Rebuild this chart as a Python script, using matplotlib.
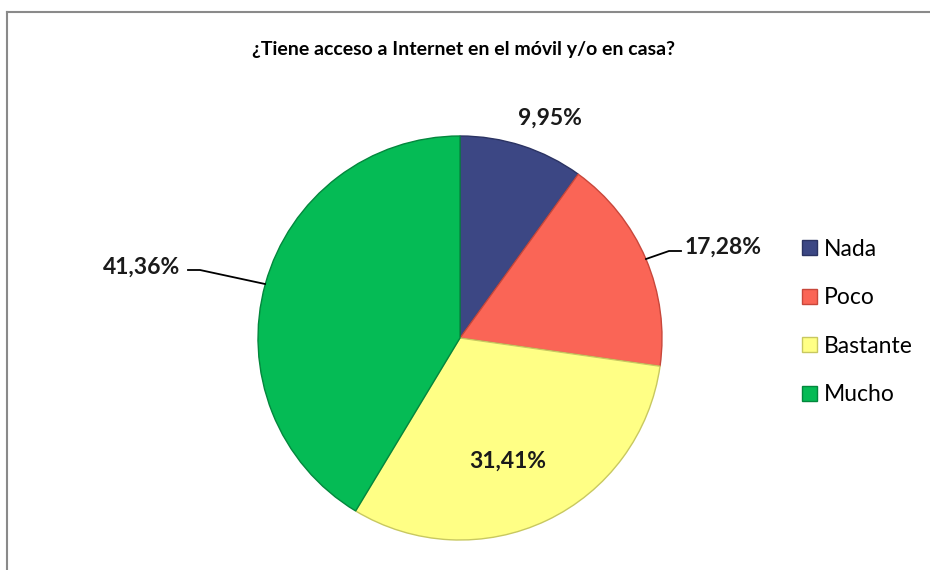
import matplotlib.pyplot as plt
from matplotlib.patches import Patch
from matplotlib.lines import Line2D

# Data
categories = ["Nada", "Poco", "Bastante", "Mucho"]
values = [9.95, 17.28, 31.41, 41.36]
labels = ["9,95%", "17,28%", "31,41%", "41,36%"]
colors = ["#3C4784", "#FA6556", "#FFFF85", "#05BB55"]
edges = ["#2B3363", "#C8473B", "#C8C860", "#03873D"]

plt.rcParams['font.family'] = ['Lato', 'DejaVu Sans']

W, H = 930, 570
fig = plt.figure(figsize=(W / 100, H / 100), dpi=100)

# Frame (only top and left edges visible)
fig.add_artist(Line2D([7 / W, 1], [1 - 12 / H, 1 - 12 / H], color="#8A8A8A", lw=1.5))
fig.add_artist(Line2D([7 / W, 7 / W], [0, 1 - 12 / H], color="#8A8A8A", lw=1.5))

fig.text(463 / W, 1 - 50 / H, "¿Tiene acceso a Internet en el móvil y/o en casa?",
         ha="center", va="center", fontsize=14, fontweight="bold")

# Pie axes: center (460, 338) px, radius 202 px
cx, cy, r = 460, 338, 202
ax = fig.add_axes([(cx - r) / W, (H - cy - r) / H, 2 * r / W, 2 * r / H])
wedges, _ = ax.pie(values, colors=colors, startangle=90, counterclock=False,
                   radius=1.0, wedgeprops=dict(linewidth=1.0))
for w, ec in zip(wedges, edges):
    w.set_edgecolor(ec)
ax.set_xlim(-1, 1)
ax.set_ylim(-1, 1)
ax.axis("off")


def px(x, y):
    return ((x - cx) / r, (cy - y) / r)


lab_kw = dict(fontsize=16.5, fontweight="bold", color="#1A1A1A")
ax.text(*px(550, 118), labels[0], ha="center", va="center", clip_on=False, **lab_kw)
ax.text(*px(723, 247), labels[1], ha="center", va="center", clip_on=False, **lab_kw)
ax.text(*px(508, 461), labels[2], ha="center", va="center", clip_on=False, **lab_kw)
ax.text(*px(142, 267), labels[3], ha="center", va="center", clip_on=False, **lab_kw)

# Leader lines
for pts in ([(646, 259), (669, 251), (681, 251)],
            [(265, 284), (200, 270), (188, 270)]):
    xs, ys = zip(*[px(a, b) for a, b in pts])
    ax.add_line(Line2D(xs, ys, color="black", lw=1.3, clip_on=False))

# Legend
handles = [Patch(facecolor=c, edgecolor=e, lw=1.0) for c, e in zip(colors, edges)]
fig.legend(handles, categories, loc="center left", bbox_to_anchor=(793 / W, 1 - 322 / H),
           frameon=False, fontsize=16.5, handlelength=0.65, handleheight=0.65,
           handletextpad=0.3, labelspacing=1.2, borderaxespad=0)

fig.savefig("out.png", dpi=100)
